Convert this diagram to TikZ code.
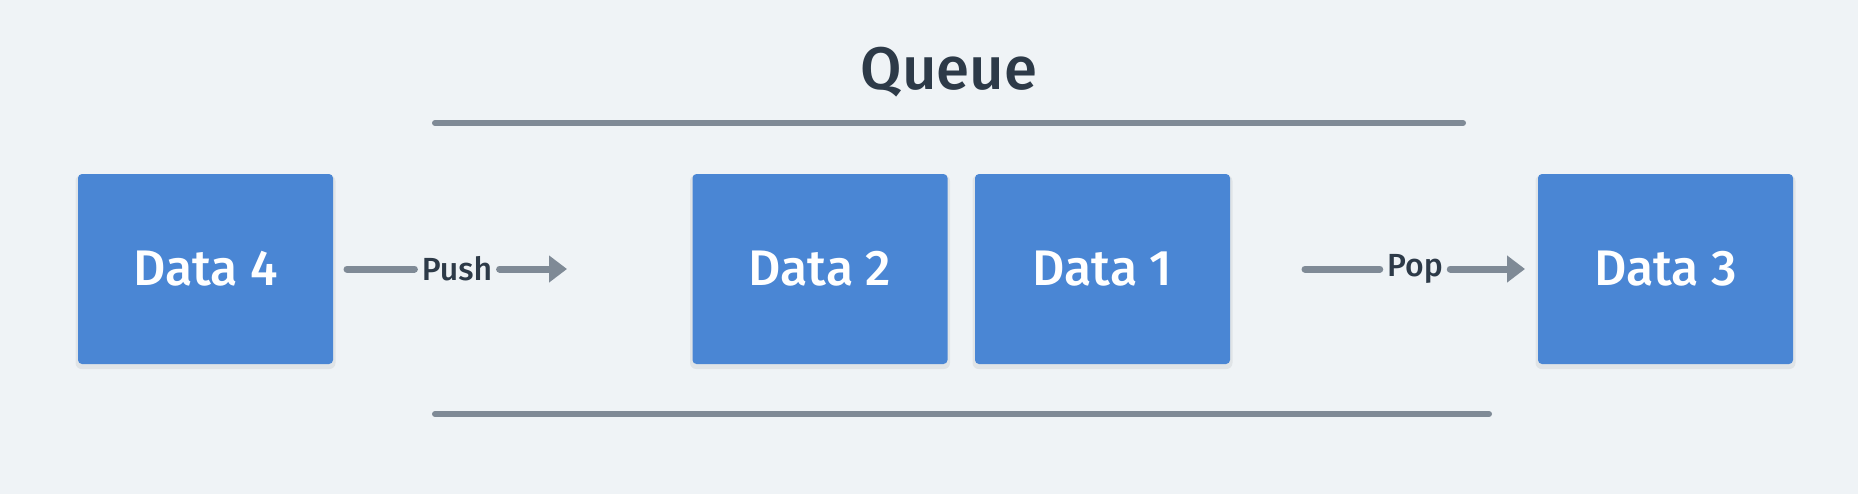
\documentclass[tikz,border=0pt]{standalone}
\usepackage{fontspec}
\setmainfont{Fira Sans}
\newfontfamily\fsmed{Fira Sans Medium}
\usetikzlibrary{arrows.meta}
\definecolor{bg}{HTML}{EFF3F6}
\definecolor{boxblue}{HTML}{4A86D4}
\definecolor{linegray}{HTML}{7F8A96}
\definecolor{titlecol}{HTML}{2D3A48}
\tikzset{
  databox/.style={fill=boxblue, rounded corners=2pt, minimum width=127.5pt, minimum height=95pt,
    inner sep=0pt, text=white, font=\fsmed\fontsize{25}{30}\selectfont},
  shadowbox/.style={fill=black, opacity=0.06, rounded corners=3pt, minimum width=130pt, minimum height=97pt},
  rail/.style={draw=linegray, line width=3pt, line cap=round},
  conn/.style={draw=linegray, line width=3.5pt, line cap=round},
  arrowconn/.style={conn, -{Triangle[length=9pt,width=13pt]}},
  lbl/.style={text=titlecol, font=\fsmed\fontsize{16}{19}\selectfont, inner xsep=3.5pt, inner ysep=0pt},
}
\begin{document}
\begin{tikzpicture}[x=0.5pt,y=-0.5pt]
\fill[bg] (0,0) rectangle (1858,494);
\useasboundingbox (0,0) rectangle (1858,494);
% title
\node[text=titlecol, font=\fsmed\fontsize{30}{36}\selectfont] (title) at (949,72) {Queue};
% rails
\coordinate (ts) at (435,123); \coordinate (te) at (1463,123);
\coordinate (bs) at (435,414); \coordinate (be) at (1489,414);
\draw[rail] (ts) -- (te);
\draw[rail] (bs) -- (be);
% shadows
\foreach \x in {205.5,820,1102.5,1665.5}
  \node[shadowbox] at (\x,272) {};
% boxes
\node[databox] (d4) at (205.5,269) {Data 4};
\node[databox] (d2) at (820,269) {Data 2};
\node[databox] (d1) at (1102.5,269) {Data 1};
\node[databox] (d3) at (1665.5,269) {Data 3};
% push
\coordinate (pushs) at (347,269);
\coordinate (pushe) at (567,269);
\node[lbl] (push) at (457,269) {Push};
\draw[conn] (pushs) -- (push.west);
\draw[arrowconn] (push.east) -- (pushe);
% pop
\coordinate (pops) at (1305,269);
\coordinate (pope) at (1525,269);
\node[lbl] (pop) at (1415,269) {Pop};
\draw[conn] (pops) -- (pop.west);
\draw[arrowconn] (pop.east) -- (pope);
\end{tikzpicture}
\end{document}
